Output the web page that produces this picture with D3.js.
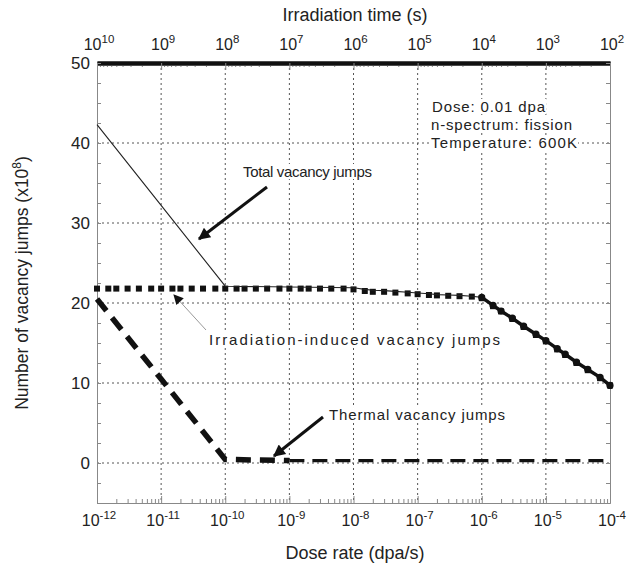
<!DOCTYPE html>
<html><head><meta charset="utf-8">
<script src="https://cdn.jsdelivr.net/npm/d3@7"></script>
<style>
body{margin:0;background:#fff;}
text{font-family:"Liberation Sans",Arial,sans-serif;fill:#222;}
</style></head>
<body><svg id="c" width="634" height="565"></svg>
<script>
// ---- data ----
const doseRates = [1e-12,1.5e-12,2e-12,3e-12,4.5e-12,7e-12,
  1e-11,1.5e-11,2e-11,3e-11,4.5e-11,7e-11,
  1e-10,1.5e-10,2e-10,3e-10,4.5e-10,7e-10,
  1e-9,1.5e-9,2e-9,3e-9,4.5e-9,7e-9,
  1e-8,1.5e-8,2e-8,3e-8,4.5e-8,7e-8,
  1e-7,1.5e-7,2e-7,3e-7,4.5e-7,7e-7,
  1e-6,1.5e-6,2e-6,3e-6,4.5e-6,7e-6,
  1e-5,1.5e-5,2e-5,3e-5,4.5e-5,7e-5,
  1e-4];
const irradiationJumps = [21.8,21.8,21.8,21.8,21.8,21.8,
  21.8,21.8,21.8,21.8,21.8,21.8,
  21.8,21.8,21.8,21.8,21.8,21.8,
  21.8,21.8,21.8,21.8,21.8,21.8,
  21.7,21.5,21.4,21.4,21.3,21.2,
  21.1,21.0,20.95,20.9,20.85,20.8,
  20.6,19.6,18.95,18.0,17.0,16.0,
  15.2,14.2,13.5,12.5,11.6,10.6,
  9.7];
const thermalRates = [1e-12,1e-11,1e-10,1e-9,1e-8,1e-7,1e-6,1e-5,1e-4];
const thermalJumps = [20.5,10.5,0.45,0.3,0.3,0.3,0.3,0.3,0.3];
const totalRates = [1e-12,1e-11,1e-10,1e-9,1e-8,1.5e-8,2e-8,3e-8,4.5e-8,7e-8,
  1e-7,1.5e-7,2e-7,3e-7,4.5e-7,7e-7,
  1e-6,1.5e-6,2e-6,3e-6,4.5e-6,7e-6,
  1e-5,1.5e-5,2e-5,3e-5,4.5e-5,7e-5,1e-4];
const totalJumps = [42.3,32.2,22.1,22.0,21.9,21.7,21.6,21.55,21.45,21.35,
  21.25,21.15,21.05,21.0,20.95,20.85,
  20.7,19.7,19.0,18.1,17.1,16.1,
  15.3,14.3,13.6,12.6,11.7,10.7,9.7];
const bottomTickExps = [-12,-11,-10,-9,-8,-7,-6,-5,-4];
const topTickExps = [10,9,8,7,6,5,4,3,2];
const yTicks = [0,10,20,30,40,50];
const dose = 0.01;

// ---- layout ----
const svg = d3.select("#c");
const L=97, R=610, T=63, B=503;
const x = d3.scaleLog().domain([1e-12,1e-4]).range([L,R]);
const xt = d3.scaleLog().domain([dose/1e-12, dose/1e-4]).range([L,R]);
const y = d3.scaleLinear().domain([-5,50]).range([B,T]);

// grid
const g = svg.append("g");
g.selectAll(".vg").data(bottomTickExps.slice(1,-1)).join("line")
  .attr("x1",d=>x(Math.pow(10,d))).attr("x2",d=>x(Math.pow(10,d)))
  .attr("y1",T).attr("y2",B).attr("stroke","#555").attr("stroke-width",1)
  .attr("stroke-dasharray","2,3");
g.selectAll(".hg").data(yTicks.slice(0,-1)).join("line")
  .attr("x1",L).attr("x2",R).attr("y1",d=>y(d)).attr("y2",d=>y(d))
  .attr("stroke","#555").attr("stroke-width",1).attr("stroke-dasharray","2,3");

// axes
const fmtNone = ()=>"";
const minorVals = [];
for(let e=-12;e<-4;e++) for(let m=2;m<10;m++) minorVals.push(m*Math.pow(10,e));
const axB = svg.append("g").attr("transform",`translate(0,${B})`)
  .call(d3.axisTop(x).tickValues(minorVals).tickFormat(fmtNone).tickSize(4).tickSizeOuter(0));
const axB2 = svg.append("g").attr("transform",`translate(0,${B})`)
  .call(d3.axisTop(x).tickValues(bottomTickExps.map(e=>Math.pow(10,e))).tickFormat(fmtNone).tickSize(7).tickSizeOuter(0));
const minorT = [];
for(let e=2;e<10;e++) for(let m=2;m<10;m++) minorT.push(m*Math.pow(10,e));
const axT = svg.append("g").attr("transform",`translate(0,${T})`)
  .call(d3.axisBottom(xt).tickValues(minorT).tickFormat(fmtNone).tickSize(4).tickSizeOuter(0));
const axT2 = svg.append("g").attr("transform",`translate(0,${T})`)
  .call(d3.axisBottom(xt).tickValues(topTickExps.map(e=>Math.pow(10,e))).tickFormat(fmtNone).tickSize(7).tickSizeOuter(0));
const yMinor = d3.range(-5,50.1,2.5);
const axL = svg.append("g").attr("transform",`translate(${L},0)`)
  .call(d3.axisRight(y).tickValues(yMinor).tickFormat(fmtNone).tickSize(4).tickSizeOuter(0));
const axR = svg.append("g").attr("transform",`translate(${R},0)`)
  .call(d3.axisLeft(y).tickValues(yMinor).tickFormat(fmtNone).tickSize(4).tickSizeOuter(0));
[axB,axB2,axT,axL,axR,axT2].forEach(a=>{
  a.selectAll("path").attr("stroke","#888").attr("stroke-width",1);
  a.selectAll("line").attr("stroke","#888");
});
axT.select("path").attr("stroke","#111").attr("stroke-width",4);
axT2.select("path").attr("stroke","#111").attr("stroke-width",4);

// tick labels
function powLabel(sel, xp, yp, e){
  const t = sel.append("text").attr("x",xp).attr("y",yp).attr("text-anchor","middle").style("font-size","16px");
  t.append("tspan").text("10");
  t.append("tspan").attr("dy",-7).style("font-size","11.5px").text(e);
}
bottomTickExps.forEach(e=>powLabel(svg, x(Math.pow(10,e))+2, 526, String(e)));
topTickExps.forEach(e=>powLabel(svg, xt(Math.pow(10,e))+2, 50, String(e)));
svg.selectAll(".yl").data(yTicks).join("text")
  .attr("x",90).attr("y",d=>y(d)+6).attr("text-anchor","end")
  .style("font-size","17px").text(d=>d);

// titles
svg.append("text").attr("x",355).attr("y",21).attr("text-anchor","middle").style("font-size","18px").text("Irradiation time (s)");
svg.append("text").attr("x",355).attr("y",559).attr("text-anchor","middle").style("font-size","18px").text("Dose rate (dpa/s)");
const yt = svg.append("text").attr("transform","translate(28,283) rotate(-90)").attr("text-anchor","middle").style("font-size","17.5px");
yt.append("tspan").text("Number of vacancy jumps (x10");
yt.append("tspan").attr("dy",-7).style("font-size","12px").text("8");
yt.append("tspan").attr("dy",7).text(")");

// ---- data marks ----
const line = d3.line().x(d=>x(d[0])).y(d=>y(d[1]));
const thermal = thermalRates.map((r,i)=>[r,thermalJumps[i]]);
const irr = doseRates.map((r,i)=>[r,irradiationJumps[i]]);
const total = totalRates.map((r,i)=>[r,totalJumps[i]]);

// thermal: thick dashed
svg.append("path").attr("d",line(thermal.slice(3))).attr("fill","none")
  .attr("stroke","#111").attr("stroke-width",3.2).attr("stroke-dasharray","15,8");
svg.append("path").attr("d",line(thermal.slice(0,4))).attr("fill","none")
  .attr("stroke","#111").attr("stroke-width",5.5).attr("stroke-dasharray","15,9");

// irradiation squares
svg.selectAll(".sq").data(irr).join("rect")
  .attr("x",d=>x(d[0])-3).attr("y",d=>y(d[1])-3).attr("width",6).attr("height",6).attr("fill","#111");

// total line: thin then thick
const iSplit = totalRates.indexOf(1e-6);
svg.append("path").attr("d",line(total.slice(0,iSplit+1))).attr("fill","none")
  .attr("stroke","#222").attr("stroke-width",1.1);
svg.append("path").attr("d",line(total.slice(iSplit))).attr("fill","none")
  .attr("stroke","#111").attr("stroke-width",3.5);
svg.selectAll(".ci").data(total.slice(iSplit)).join("circle")
  .attr("cx",d=>x(d[0])).attr("cy",d=>y(d[1])).attr("r",3.6).attr("fill","#111");

// ---- annotations ----
const defs = svg.append("defs");
defs.append("marker").attr("id","ah").attr("viewBox","0 0 10 10").attr("refX",9).attr("refY",5)
  .attr("markerWidth",5).attr("markerHeight",4).attr("orient","auto").attr("markerUnits","strokeWidth")
  .append("path").attr("d","M0,0 L10,5 L0,10 Z").attr("fill","#111");
defs.append("marker").attr("id","ah2").attr("viewBox","0 0 10 10").attr("refX",9).attr("refY",5)
  .attr("markerWidth",14).attr("markerHeight",10).attr("orient","auto").attr("markerUnits","userSpaceOnUse")
  .append("path").attr("d","M0,0 L10,5 L0,10 Z").attr("fill","#111");

function label(txt, xp, yp, w){
  const grp = svg.append("g");
  const bg = grp.append("rect").attr("fill","#fff");
  const t = grp.append("text").attr("x",xp).attr("y",yp).style("font-size","15px")
    .attr("textLength",w).attr("lengthAdjust","spacing").text(txt);
  const bb = t.node().getBBox();
  bg.attr("x",bb.x-1).attr("y",bb.y+1).attr("width",bb.width+2).attr("height",bb.height-2);
}
label("Dose: 0.01 dpa",432,112,113);
label("n-spectrum: fission",431,130,141);
label("Temperature: 600K",431,148,146);
label("Total vacancy jumps",243,177,129);
label("Irradiation-induced vacancy jumps",209,345,291);
label("Thermal vacancy jumps",329,420,176);

svg.append("line").attr("x1",267).attr("y1",187).attr("x2",199).attr("y2",239)
  .attr("stroke","#111").attr("stroke-width",3).attr("marker-end","url(#ah)");
svg.append("line").attr("x1",206).attr("y1",330).attr("x2",174).attr("y2",295)
  .attr("stroke","#999").attr("stroke-width",1).attr("marker-end","url(#ah2)");
svg.append("line").attr("x1",323).attr("y1",417).attr("x2",274).attr("y2",456)
  .attr("stroke","#111").attr("stroke-width",3).attr("marker-end","url(#ah)");
</script></body></html>
